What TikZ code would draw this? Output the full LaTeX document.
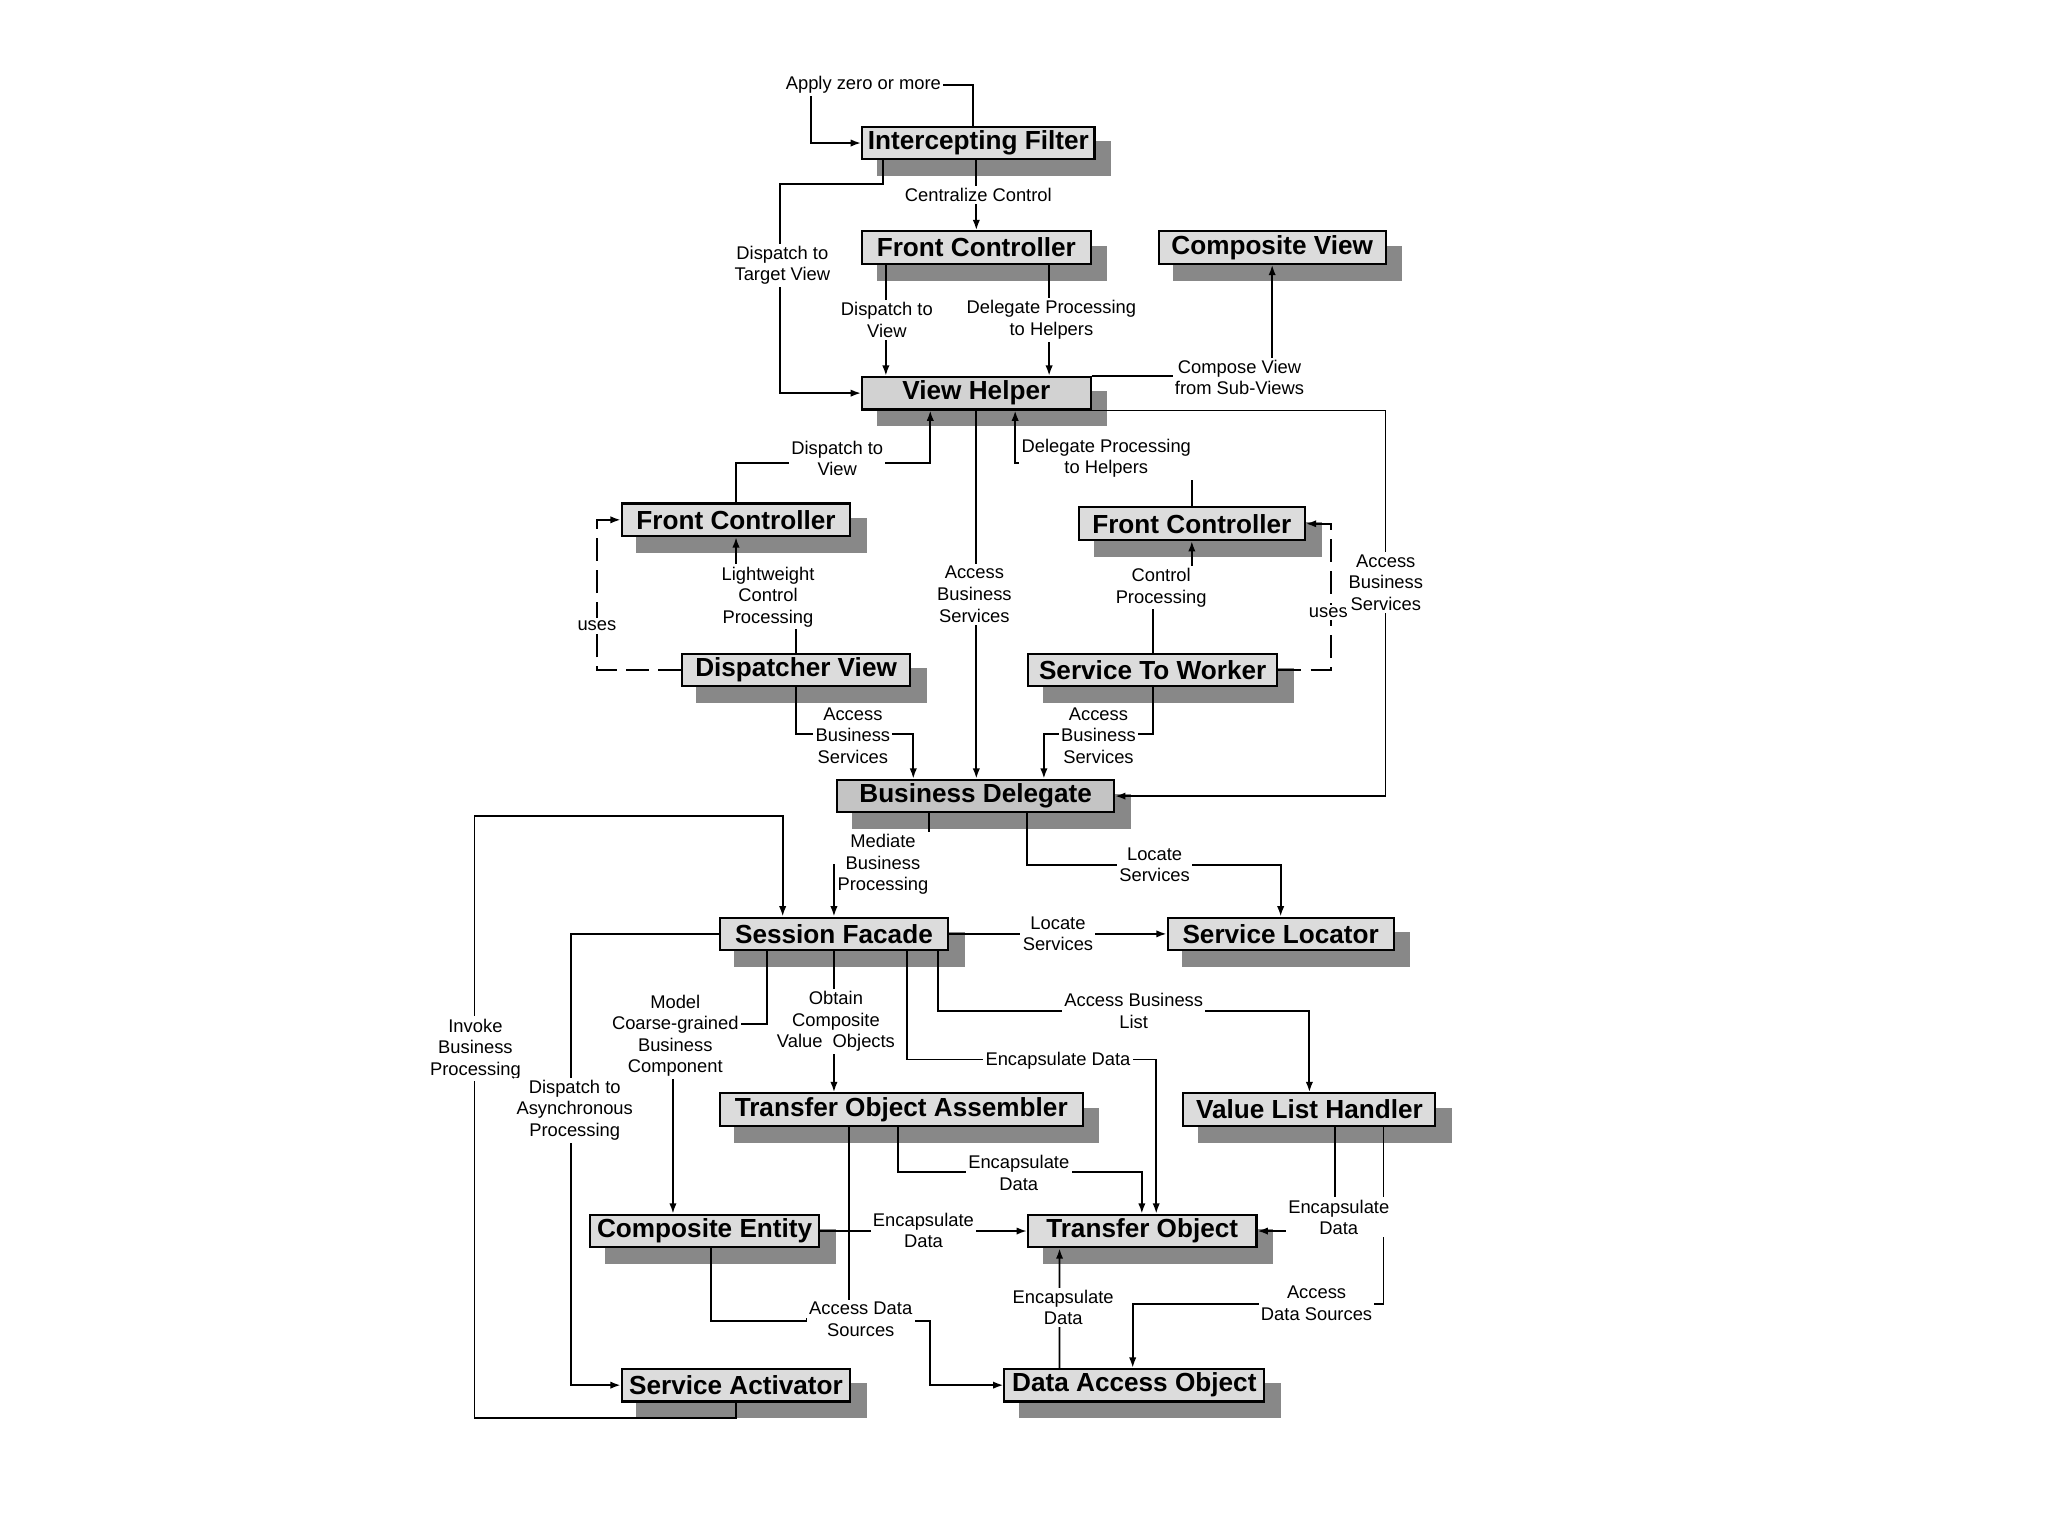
\documentclass[tikz,border=0pt]{standalone}
\usepackage{fontspec}
\setmainfont{Liberation Sans}
\usepackage{tikz}
\usetikzlibrary{arrows.meta,calc,positioning}
\definecolor{boxgray}{RGB}{220,220,220}
\definecolor{boxmid}{RGB}{210,210,210}
\definecolor{boxdark}{RGB}{196,196,196}
\definecolor{shadegray}{RGB}{136,136,136}
\pgfdeclarelayer{shade}
\pgfdeclarelayer{wires}
\pgfsetlayers{shade,wires,main}
\newcommand{\pat}[1]{\makebox[0pt]{#1}}

\begin{document}
\begin{tikzpicture}[x=0.02cm,y=-0.02cm,>={Latex[length=4.5pt,width=3.2pt]},line join=miter,
 pbox/.style={draw=black,line width=0.9pt,fill=boxgray,minimum width=#1,minimum height=0.5cm,
  inner sep=0pt,font=\fontsize{11.4}{13}\selectfont\bfseries},
 lbl/.style={fill=white,inner sep=1pt,align=center,font=\fontsize{8}{9.4}\selectfont},
 wire/.style={line width=0.8pt},
 uses/.style={wire,dash pattern=on 10pt off 4pt}]
\useasboundingbox (0,0) rectangle (1568,1176);
% Patterns, top to bottom.
\node[pbox=3.56cm] (ifilter) at (749,109.5) {\pat{Intercepting Filter}};
\node[pbox=3.5cm] (fct) at (747.5,189.5) {\pat{Front Controller}};
\node[pbox=3.48cm] (cv) at (974,189.5) {\pat{Composite View}};
\node[pbox=3.5cm,fill=boxmid] (vh) at (747.5,301) {\pat{View Helper}};
\node[pbox=3.5cm] (fcl) at (563.5,398) {\pat{Front Controller}};
\node[pbox=3.46cm] (fcr) at (912.5,401) {\pat{Front Controller}};
\node[pbox=3.5cm] (dv) at (609.5,513) {\pat{Dispatcher View}};
\node[pbox=3.82cm] (stw) at (882.5,513) {\pat{Service To Worker}};
\node[pbox=4.24cm,fill=boxdark] (bd) at (747,609.5) {\pat{Business Delegate}};
\node[pbox=3.5cm] (sf) at (638.5,715) {\pat{Session Facade}};
\node[pbox=3.46cm] (sl) at (980.5,715) {\pat{Service Locator}};
\node[pbox=5.56cm] (toa) at (690,849.5) {\pat{Transfer Object Assembler}};
\node[pbox=3.86cm] (vlh) at (1002.5,849.5) {\pat{Value List Handler}};
\node[pbox=3.5cm] (ce) at (539.5,942.5) {\pat{Composite Entity}};
\node[pbox=3.5cm] (to) at (874.5,942.5) {\pat{Transfer Object}};
\node[pbox=3.5cm] (sa) at (563.5,1060.5) {\pat{Service Activator}};
\node[pbox=3.98cm] (dao) at (868.5,1060.5) {\pat{Data Access Object}};
\begin{pgfonlayer}{shade}
\foreach \n in {ifilter,fct,cv,vh,fcl,fcr,dv,stw,bd,sf,sl,toa,vlh,ce,to,sa,dao}
 \fill[shadegray] ($(\n.south west)+(12,12)$) rectangle ($(\n.north east)+(12,12)$);
\end{pgfonlayer}
% Relation labels.
\node[lbl] (lapply) at (661,65) {Apply zero or more};
\node[lbl] (lcentral) at (749,149) {Centralize Control};
\node[lbl] (ltarget) at (599,203) {Dispatch to\\Target View};
\node[lbl] (ldisp1) at (679,245) {Dispatch to\\View};
\node[lbl] (ldeleg1) at (805,245) {Delegate Processing\\to Helpers};
\node[lbl] (lcompose) at (949,289) {Compose View\\from Sub-Views};
\node[lbl] (ldisp2) at (641,351) {Dispatch to\\View};
\node[lbl] (ldeleg2) at (847,351) {Delegate Processing\\to Helpers};
\node[lbl] (llight) at (588,457) {Lightweight\\Control\\Processing};
\node[lbl] (lacc1) at (746,455) {Access\\Business\\Services};
\node[lbl] (lctrl) at (889,450) {Control\\Processing};
\node[lbl] (lusesl) at (457,479) {uses};
\node[lbl] (lusesr) at (1017,469) {uses};
\node[lbl] (lacc2) at (1061,446) {Access\\Business\\Services};
\node[lbl] (lacc3) at (653,563) {Access\\Business\\Services};
\node[lbl] (lacc4) at (841,563) {Access\\Business\\Services};
\node[lbl] (lmed) at (676,662) {Mediate\\Business\\Processing};
\node[lbl] (lloc1) at (884,662) {Locate\\Services};
\node[lbl] (linvoke) at (364,803) {Invoke\\Business\\Processing};
\node[lbl] (lloc2) at (810,715) {Locate\\Services};
\node[lbl] (lasync) at (440,850) {Dispatch to\\Asynchronous\\Processing};
\node[lbl] (lmodel) at (517,793) {Model\\Coarse-grained\\Business\\Component};
\node[lbl] (lobtain) at (640,782) {Obtain\\Composite\\Value~~Objects};
\node[lbl] (lenc1) at (810,812) {Encapsulate Data};
\node[lbl] (llist) at (868,774) {Access Business\\List};
\node[lbl] (lenc2) at (780,898) {Encapsulate\\Data};
\node[lbl] (lenc3) at (707,942) {Encapsulate\\Data};
\node[lbl] (lenc4) at (1025,932) {Encapsulate\\Data};
\node[lbl] (lenc5) at (814,1001) {Encapsulate\\Data};
\node[lbl] (lsrc1) at (659,1010) {Access Data\\Sources};
\node[lbl] (lsrc2) at (1008,998) {Access\\Data Sources};
% Connectors run under the labels and boxes.
\begin{pgfonlayer}{wires}
\draw[wire,->] ($(ifilter.north west)+(86,0)$) |- ($(ifilter.west)+(-38,-44.5)$) |- (ifilter.west);
\draw[wire,->] (fct.north |- ifilter.south) -- (fct.north);
\draw[wire,->] ($(ifilter.south west)+(17,0)$) |- ($(vh.west)+(-62,-160)$) |- (vh.west);
\draw[wire,->] ($(fct.south west)+(19,0)$) -- ($(vh.north west)+(19,0)$);
\draw[wire,->] ($(fct.south west)+(144,0)$) -- ($(vh.north west)+(144,0)$);
\draw[wire,->] (vh.north east) -| (cv.south);
\draw[wire,->] (vh.south east) -| ($(bd.east)+(207,0)$) -- (bd.east);
\draw[wire,->] (vh.south) -- (vh.south |- bd.north);
\draw[wire,->] (fcl.north) |- ($(vh.south west)+(53,40)$) -- ($(vh.south west)+(53,0)$);
\draw[wire,->] (fcr.north) |- ($(vh.south west)+(118,40)$) -- ($(vh.south west)+(118,0)$);
\draw[wire,->] (dv.north) |- (fcl.south |- llight) -- (fcl.south);
\draw[uses,->] (dv.west) -| ($(fcl.west)+(-18,0)$) -- (fcl.west);
\draw[uses,->] (stw.east) -| ($(fcr.east)+(19,0)$) -- (fcr.east);
\draw[wire,->] (stw.north) |- (fcr.south |- lctrl) -- (fcr.south);
\draw[wire,->] (dv.south) |- ($(bd.north west)+(59,-34)$) -- ($(bd.north west)+(59,0)$);
\draw[wire,->] (stw.south) |- ($(bd.north west)+(159,-34)$) -- ($(bd.north west)+(159,0)$);
\draw[wire,->] ($(bd.south west)+(71,0)$) |- (sf.north |- lmed) -- (sf.north);
\draw[wire,->] ($(bd.south west)+(146,0)$) |- (sl.north |- lloc1) -- (sl.north);
\draw[wire,->] (sa.south) -- ++(0,12) -| ($(sf.north west)+(-187,-77)$) -| ($(sf.north west)+(49,0)$);
\draw[wire,->] (sf.east) -- (sl.west);
\draw[wire,->] (sf.west) -| ($(sa.west)+(-38,0)$) -- (sa.west);
\draw[wire,->] ($(sf.south west)+(37,0)$) |- ($(ce.north west)+(64,-145)$) -- ($(ce.north west)+(64,0)$);
\draw[wire,->] (sf.south) -- (sf.south |- toa.north);
\draw[wire,->] ($(sf.south west)+(144,0)$) |- ($(to.north west)+(99,-118)$) -- ($(to.north west)+(99,0)$);
\draw[wire,->] ($(sf.south west)+(168,0)$) |- (vlh.north |- llist) -- (vlh.north);
\draw[wire,->] ($(toa.south west)+(137,0)$) |- ($(to.north west)+(88,-32)$) -- ($(to.north west)+(88,0)$);
\draw[wire] ($(toa.south west)+(100,0)$) |- (lsrc1);
\draw[wire,->] ($(ce.south west)+(93,0)$) |- ($(dao.west)+(-56,-49)$) |- (dao.west);
\draw[wire,->] (ce.east) -- (to.west);
\draw[wire,->] ($(dao.north west)+(43,0)$) -- ($(to.south west)+(25,0)$);
\draw[wire,->] ($(vlh.south west)+(117,0)$) |- (to.east);
\draw[wire,->] ($(vlh.south west)+(154,0)$) |- ($(dao.north west)+(99,-49)$) -- ($(dao.north west)+(99,0)$);
\end{pgfonlayer}
\end{tikzpicture}
\end{document}
